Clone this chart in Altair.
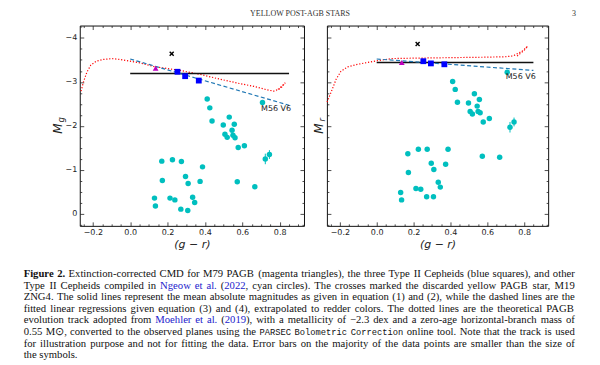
import altair as alt
import pandas as pd

# ---------------- data ----------------
# other Type II Cepheids (cyan circles): colour, M_g, M_r, error
gr_cyan = [0.412, 0.426, 0.438, 0.498, 0.530, 0.557, 0.545, 0.507, 0.519, 0.550, 0.561, 0.578, 0.611,
           0.708, 0.723, 0.745,
           0.169, 0.226, 0.274, 0.387, 0.172, 0.296, 0.310, 0.374, 0.573, 0.667,
           0.130, 0.135, 0.213, 0.239, 0.334, 0.345, 0.271, 0.308]
Mg_cyan = [-2.61, -2.41, -2.11, -2.02, -2.20, -2.04, -1.90, -1.81, -1.74, -1.79, -1.73, -1.51, -1.55,
           -2.53, -1.25, -1.35,
           -1.20, -1.23, -1.19, -1.07, -0.76, -0.85, -0.69, -0.74, -0.73, -0.62,
           -0.36, -0.18, -0.36, -0.32, -0.38, -0.26, -0.11, -0.08]
Mr_cyan = [-3.01, -2.83, -2.54, -2.52, -2.73, -2.60, -2.45, -2.33, -2.27, -2.33, -2.30, -2.09, -2.17,
           -3.22, -1.97, -2.09,
           -1.37, -1.47, -1.47, -1.47, -0.94, -1.15, -1.01, -1.13, -1.31, -1.29,
           -0.49, -0.32, -0.58, -0.56, -0.72, -0.61, -0.39, -0.39]
err_cyan = [0, 0, 0, 0, 0, 0, 0, 0, 0, 0, 0, 0, 0, 0, 0.12, 0.10,
            0, 0, 0, 0, 0, 0, 0, 0, 0, 0, 0, 0, 0, 0, 0, 0, 0, 0]

# the three Type II Cepheids (blue squares)
gr_ceph = [0.253, 0.294, 0.367]
Mg_ceph = [-3.23, -3.13, -3.03]
Mr_ceph = [-3.47, -3.42, -3.40]

# M79 PAGB (magenta triangle)
gr_pagb = [0.136]
Mg_pagb = [-3.31]
Mr_pagb = [-3.44]

# discarded yellow PAGB star M19 ZNG4 (cross)
gr_x = [0.222]
Mg_x = [-3.64]
Mr_x = [-3.86]

# mean absolute magnitude (solid) and linear regression (dashed)
gr_line = [0.0, 0.85]
Mg_mean = [-3.19, -3.19]
Mr_mean = [-3.44, -3.44]
Mg_fit = [-3.52, -2.47]
Mr_fit = [-3.52, -3.26]

# theoretical PAGB track (dotted)
trk_g_gr = [-0.263, -0.250, -0.232, -0.211, -0.182, -0.143, -0.098, -0.054, 0.0, 0.054, 0.125,
            0.268, 0.375, 0.482, 0.589, 0.661, 0.732, 0.768, 0.804, 0.830, 0.813, 0.782]
trk_g_M = [-2.79, -3.00, -3.22, -3.38, -3.47, -3.51, -3.53, -3.51, -3.47, -3.43, -3.35,
           -3.26, -3.17, -3.06, -2.96, -2.90, -2.82, -2.79, -2.85, -2.98, -2.91, -2.80]
trk_r_gr = [-0.269, -0.247, -0.220, -0.194, -0.158, -0.104, -0.050, 0.0, 0.084, 0.210, 0.389,
            0.568, 0.694, 0.740, 0.790, 0.819, 0.800, 0.760]
trk_r_M = [-2.54, -2.77, -3.06, -3.24, -3.34, -3.40, -3.44, -3.48, -3.53, -3.54, -3.55,
           -3.56, -3.57, -3.59, -3.70, -3.81, -3.72, -3.58]

label_text = ["M56 V6"]
label_gr = [0.700]
label_Mg = [-2.38]
label_Mr = [-3.10]

# ticks
x_major = [-0.2, 0.0, 0.2, 0.4, 0.6, 0.8]
x_minor = [-0.25, -0.15, -0.1, -0.05, 0.05, 0.1, 0.15, 0.25, 0.3, 0.35, 0.45, 0.5, 0.55,
           0.65, 0.7, 0.75, 0.85, 0.9]
y_major = [-4, -3, -2, -1, 0]
y_minor = [-4.25, -3.75, -3.5, -3.25, -2.75, -2.5, -2.25, -1.75, -1.5, -1.25,
           -0.75, -0.5, -0.25, 0.25]

header_text = ["YELLOW POST-AGB STARS", "3"]

caption_runs = [
    [("bold", "Figure 2."), ("norm", " Extinction-corrected CMD for M79 PAGB (magenta triangles), the three Type II Cepheids (blue squares), and other")],
    [("norm", "Type II Cepheids compiled in "), ("link", "Ngeow et al."), ("norm", " ("), ("link", "2022"),
     ("norm", ", cyan circles). The crosses marked the discarded yellow PAGB star, M19")],
    [("norm", "ZNG4. The solid lines represent the mean absolute magnitudes as given in equation (1) and (2), while the dashed lines are the")],
    [("norm", "fitted linear regressions given equation (3) and (4), extrapolated to redder colors. The dotted lines are the theoretical PAGB")],
    [("norm", "evolution track adopted from "), ("link", "Moehler et al."), ("norm", " ("), ("link", "2019"),
     ("norm", "), with a metallicity of \u22122.3 dex and a zero-age horizontal-branch mass of")],
    [("norm", "0.55 M\u2299, converted to the observed planes using the "), ("mono", "PARSEC Bolometric Correction"),
     ("norm", " online tool. Note that the track is used")],
    [("norm", "for illustration purpose and not for fitting the data. Error bars on the majority of the data points are smaller than the size of")],
    [("norm", "the symbols.")],
]

# ---------------- styling constants ----------------
CYAN = "#00bfbf"
BLUE = "#0000ff"
MAGENTA = "#bf00bf"
RED = "#ff0000"
DASH = "#1f77b4"
INK = "#222222"
SANS = "DejaVu Sans"
SERIF = "Liberation Serif"
H = 201

# caption typesetting (Times metrics, Liberation Serif is metric compatible)
FS = 10.7
MFS = 8.8
CAP_X0 = 14.7
CAP_W = 553.0
CAP_TOP = 18.5
CAP_LEAD = 11.6
REG = {" ": 250, "(": 333, ")": 333, ",": 250, "-": 333, ".": 250, ":": 278, ";": 278,
       "\u2212": 564, "\u2299": 800}
for ch in "0123456789":
    REG[ch] = 500
REG.update(dict(zip("ABCDEFGHIJKLMNOPQRSTUVWXYZ",
                    [722, 667, 667, 722, 611, 556, 722, 722, 333, 389, 722, 611, 889, 722, 722, 556,
                     722, 667, 556, 611, 722, 722, 944, 722, 722, 611])))
REG.update(dict(zip("abcdefghijklmnopqrstuvwxyz",
                    [444, 500, 444, 500, 444, 333, 500, 500, 278, 278, 500, 278, 778, 500, 500, 500,
                     500, 333, 389, 278, 500, 500, 722, 500, 500, 444])))
BOLD = dict(REG)
BOLD.update({"F": 611, "u": 556, "r": 444, "g": 500, "i": 278, "e": 444})


def tw(s, st):
    if st == "mono":
        return len(s) * 0.6 * MFS
    tab = BOLD if st == "bold" else REG
    return sum(tab.get(c, 500) for c in s) / 1000.0 * FS


def layout_caption():
    rows = []
    for li, runs in enumerate(caption_runs):
        words, cur = [], []
        for st, txt in runs:
            for c in txt:
                if c == " ":
                    if cur:
                        words.append(cur)
                        cur = []
                else:
                    if cur and cur[-1][0] == st:
                        cur[-1] = (st, cur[-1][1] + c)
                    else:
                        cur.append((st, c))
        if cur:
            words.append(cur)
        widths = [sum(tw(t, st) for st, t in w) for w in words]
        if li < len(caption_runs) - 1 and len(words) > 1:
            gap = (CAP_W - sum(widths)) / (len(words) - 1)
        else:
            gap = 0.25 * FS
        x = CAP_X0
        for w, wd in zip(words, widths):
            xx = x
            for st, t in w:
                rows.append({"px": xx, "py": CAP_TOP + li * CAP_LEAD, "style": st, "t": t})
                xx += tw(t, st)
            x += wd + gap
    return pd.DataFrame(rows)


xs = alt.Scale(domain=[-0.27, 0.93], nice=False, zero=False)
ys = alt.Scale(domain=[-4.28, 0.27], reverse=True, nice=False, zero=False)


def X(f):
    return alt.X(f, type="quantitative", scale=xs, axis=None)


def Y(f):
    return alt.Y(f, type="quantitative", scale=ys, axis=None)


def axis_layers(df, show_labels, xtitle):
    common = dict(domain=False, grid=False, tickColor=INK, tickWidth=0.8)
    lab = dict(labelFont=SANS, labelFontSize=8, labelColor=INK, labelFlush=False, labelOverlap=False)
    layers = []
    layers.append(alt.Chart(df).mark_point(opacity=0).encode(
        x=alt.X("gr:Q", scale=xs, axis=alt.Axis(orient="bottom", values=x_major, format=".1f",
                offset=-4, tickSize=4, labelPadding=3, title=xtitle, titleFont=SANS,
                titleFontStyle="italic", titleFontWeight="normal", titleFontSize=11,
                titleColor=INK, titlePadding=2, **lab, **common)),
        y=alt.Y("M:Q", scale=ys, axis=alt.Axis(orient="left", values=y_major, format="d",
                offset=-4, tickSize=4, labelPadding=3, labels=show_labels, title="",
                **lab, **common))))
    layers.append(alt.Chart(df).mark_point(opacity=0).encode(
        x=alt.X("gr:Q", scale=xs, axis=alt.Axis(orient="top", values=x_major, offset=-4,
                tickSize=4, labels=False, title="", **common)),
        y=alt.Y("M:Q", scale=ys, axis=alt.Axis(orient="right", values=y_major, offset=-4,
                tickSize=4, labels=False, title="", **common))))
    for xo, yo in (("bottom", "left"), ("top", "right")):
        layers.append(alt.Chart(df).mark_point(opacity=0).encode(
            x=alt.X("gr:Q", scale=xs, axis=alt.Axis(orient=xo, values=x_minor, offset=-2,
                    tickSize=2, labels=False, title="", **common)),
            y=alt.Y("M:Q", scale=ys, axis=alt.Axis(orient=yo, values=y_minor, offset=-2,
                    tickSize=2, labels=False, title="", **common))))
    return layers


def panel(M_cyan, M_ceph, M_pagb, M_x, M_mean, M_fit, trk_gr, trk_M, lab_M,
          width, show_labels, ytitle_main, ytitle_sub, tx, sub_dx):
    cyan = pd.DataFrame({"gr": gr_cyan, "M": M_cyan, "err": err_cyan})
    cyan["lo"] = cyan["M"] - cyan["err"]
    cyan["hi"] = cyan["M"] + cyan["err"]
    errs = cyan[cyan["err"] > 0]
    ceph = pd.DataFrame({"gr": gr_ceph, "M": M_ceph})
    pagb = pd.DataFrame({"gr": gr_pagb, "M": M_pagb})
    cross = pd.DataFrame({"gr": gr_x, "M": M_x})
    mean = pd.DataFrame({"gr": gr_line, "M": M_mean})
    fit = pd.DataFrame({"gr": gr_line, "M": M_fit})
    trk = pd.DataFrame({"gr": trk_gr, "M": trk_M, "i": list(range(len(trk_gr)))})
    lab = pd.DataFrame({"gr": label_gr, "M": lab_M, "t": label_text})

    layers = [
        alt.Chart(trk).mark_line(color=RED, strokeWidth=1.2, strokeDash=[1.2, 1.8]).encode(
            x=X("gr"), y=Y("M"), order="i:Q"),
        alt.Chart(mean).mark_line(color="#111111", strokeWidth=1.5).encode(x=X("gr"), y=Y("M")),
        alt.Chart(fit).mark_line(color=DASH, strokeWidth=1.2, strokeDash=[4, 2.5]).encode(
            x=X("gr"), y=Y("M")),
        alt.Chart(errs).mark_rule(color=CYAN, strokeWidth=1).encode(
            x=X("gr"), y=Y("lo"), y2="hi:Q"),
        alt.Chart(cyan).mark_point(shape="circle", filled=True, size=30, color=CYAN, opacity=1).encode(
            x=X("gr"), y=Y("M")),
        alt.Chart(ceph).mark_point(shape="square", filled=True, size=34, color=BLUE, opacity=1).encode(
            x=X("gr"), y=Y("M")),
        alt.Chart(pagb).mark_point(shape="triangle-up", filled=True, size=34, color=MAGENTA,
                                   opacity=1).encode(x=X("gr"), y=Y("M")),
        alt.Chart(cross).mark_point(shape="M-1,-1L1,1M-1,1L1,-1", filled=False, size=16,
                                    color="#000000", strokeWidth=1.4, opacity=1).encode(
            x=X("gr"), y=Y("M")),
        alt.Chart(lab).mark_text(align="left", baseline="middle", font=SANS, fontSize=8,
                                 color=INK).encode(x=X("gr"), y=Y("M"), text="t:N"),
        alt.Chart(lab).mark_text(angle=270, align="center", baseline="middle", font=SANS,
                                 fontSize=12, fontStyle="italic", color=INK, text=ytitle_main).encode(
            x=alt.value(tx), y=alt.value(H / 2 + 3)),
        alt.Chart(lab).mark_text(angle=270, align="center", baseline="middle", font=SANS,
                                 fontSize=8.5, fontStyle="italic", color=INK, text=ytitle_sub).encode(
            x=alt.value(tx + sub_dx), y=alt.value(H / 2 - 6)),
    ]
    layers += axis_layers(cyan, show_labels, "(g \u2212 r)")
    return alt.layer(*layers).resolve_axis(x="independent", y="independent").properties(
        width=width, height=H, view=alt.ViewBackground(stroke="#111111", strokeWidth=1))


left = panel(Mg_cyan, Mg_ceph, Mg_pagb, Mg_x, Mg_mean, Mg_fit, trk_g_gr, trk_g_M, label_Mg,
             225, True, "M", "g", -22, 3)
right = panel(Mr_cyan, Mr_ceph, Mr_pagb, Mr_x, Mr_mean, Mr_fit, trk_r_gr, trk_r_M, label_Mr,
              222, False, "M", "r", -8, 3)

spacer = alt.Chart(pd.DataFrame({"a": [0]})).mark_point(opacity=0, size=1).encode(
    x=alt.value(24), y=alt.value(100)).properties(width=48, height=H)

row = alt.hconcat(spacer, left, right, spacing=23, bounds="flush")

hdr = pd.DataFrame({"t": header_text, "px": [292, 569]})
hx = alt.X("px:Q", scale=alt.Scale(domain=[0, 584], nice=False), axis=None)
header = alt.layer(
    alt.Chart(hdr.iloc[[0]]).mark_text(font=SERIF, fontSize=8, align="center", baseline="top",
                                       color="#333333").encode(x=hx, y=alt.value(0), text="t:N"),
    alt.Chart(hdr.iloc[[1]]).mark_text(font=SERIF, fontSize=8, align="right", baseline="top",
                                       color="#333333").encode(x=hx, y=alt.value(0), text="t:N"),
).properties(width=584, height=10)

cap = layout_caption()
cx = alt.X("px:Q", scale=alt.Scale(domain=[0, 584], nice=False), axis=None)
cy = alt.Y("py:Q", scale=alt.Scale(domain=[0, 105], range=[0, 105], nice=False, zero=False), axis=None)


def cap_layer(style, **kw):
    return alt.Chart(cap[cap["style"] == style]).mark_text(
        align="left", baseline="middle", **kw).encode(x=cx, y=cy, text="t:N")


caption = alt.layer(
    cap_layer("norm", font=SERIF, fontSize=FS, color="#111111"),
    cap_layer("link", font=SERIF, fontSize=FS, color="#2222cc"),
    cap_layer("bold", font=SERIF, fontSize=FS, fontWeight="bold", color="#111111"),
    cap_layer("mono", font="Liberation Mono", fontSize=MFS, color="#111111"),
).properties(width=584, height=105)

chart = alt.vconcat(header, row, caption, spacing=4).properties(
    padding=0).configure_view(stroke="transparent")

chart.save("out.html", embed_options={"renderer": "svg", "actions": False})
